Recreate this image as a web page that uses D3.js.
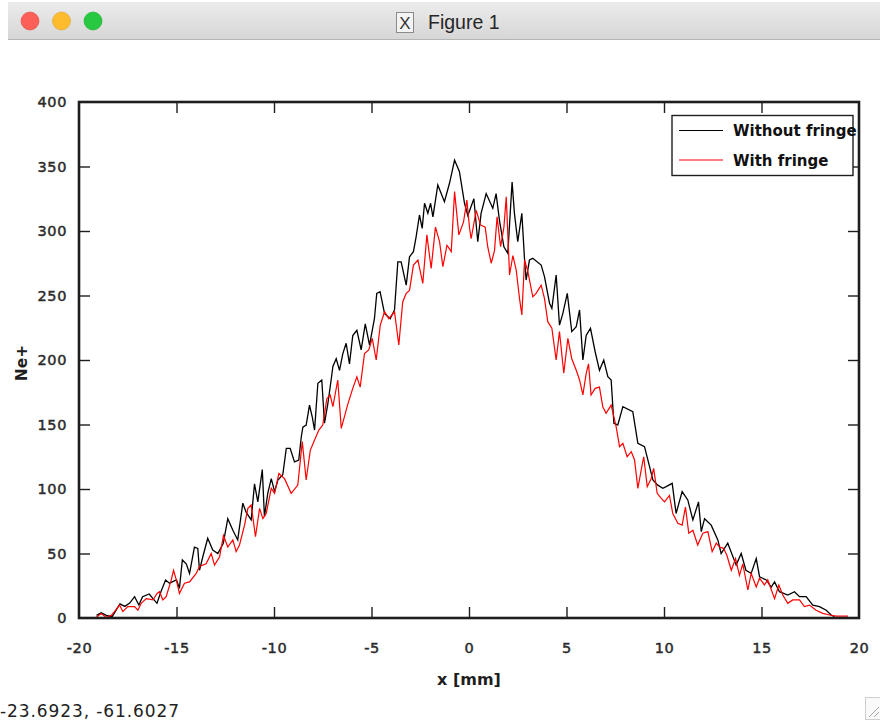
<!DOCTYPE html>
<html>
<head>
<meta charset="utf-8">
<script src="https://cdn.jsdelivr.net/npm/d3@7"></script>
<style>
  html, body { margin: 0; padding: 0; background: #fff; }
  svg { display: block; }
</style>
</head>
<body>
<svg id="fig" width="880" height="724"></svg>
<script>
// Ne+ profile across x, without fringe field
const xWithout = [-19.1,-18.86,-18.6,-18.3,-17.9,-17.65,-17.4,-17.15,-16.93,-16.74,-16.4,-16.0,-15.8,-15.56,-15.36,-15.0,-14.85,-14.7,-14.5,-14.33,-14.08,-13.91,-13.82,-13.65,-13.4,-13.14,-12.88,-12.6,-12.37,-12.11,-11.86,-11.6,-11.43,-11.17,-11.0,-10.83,-10.6,-10.49,-10.32,-10.14,-9.97,-9.8,-9.55,-9.37,-9.17,-8.95,-8.73,-8.6,-8.52,-8.35,-8.18,-8.04,-7.92,-7.75,-7.55,-7.41,-7.24,-7.07,-6.98,-6.81,-6.64,-6.47,-6.3,-6.13,-5.96,-5.75,-5.53,-5.32,-5.1,-4.85,-4.73,-4.56,-4.33,-4.04,-3.82,-3.65,-3.48,-3.22,-3.05,-2.85,-2.71,-2.54,-2.4,-2.28,-2.11,-1.97,-1.85,-1.6,-1.26,-1.0,-0.74,-0.49,-0.23,-0.06,0.25,0.45,0.62,0.88,1.22,1.39,1.56,1.79,1.99,2.21,2.33,2.5,2.71,2.85,2.93,3.1,3.27,3.7,3.87,4.13,4.25,4.47,4.64,4.81,5.04,5.27,5.5,5.67,5.84,6.01,6.23,6.47,6.69,6.91,7.12,7.29,7.43,7.63,7.89,8.4,8.66,9.0,9.26,9.43,9.68,9.94,10.11,10.42,10.62,10.93,11.22,11.48,11.77,11.91,12.08,12.42,12.76,12.93,13.27,13.7,13.96,14.2,14.47,14.73,14.9,15.24,15.5,15.67,15.92,16.35,16.69,16.95,17.29,17.63,17.97,18.32,18.57,18.74];
const neWithout = [2,4,2,1,11,9,11.6,16.5,10,16.5,18.6,11.4,20.4,29.5,27,29.5,23,45,42,34.6,55,54,37,47.5,61.8,52.7,50,58,77,68,60.5,89,82,76,104,90,115,78.5,96.7,108,98,107,111,131.5,131.5,121,122.5,140.5,148,149.6,165,156,145.7,182,184.5,151,166,184.5,195,201,192,205,213,197,219,223,207.8,228,211.6,232,251.7,253,236,232,238.8,276,276,258,280,284,295.6,312.4,302,321.5,313.7,321.5,311,335.7,322.7,337,355,346,321.5,312,325,291.7,313.7,329,317.6,329,308.5,287.8,282.7,338,313.7,291.7,313.7,277.5,262,277.5,278.8,273.6,264.6,244,240,265.9,227,236,251.7,222,225.8,238.8,200,219,224.6,206.4,192,200,187,184.5,151,149.6,163.8,160,135.4,132.8,117.3,107,103,100.5,101.8,104.4,81,98,91.5,76,90,67,77,72,60.5,50,58,41,50,37,34.6,46,32,29.5,24,28,20.4,17.8,20.4,16.5,16.5,10,8.8,6,2.3,1];

// Ne+ profile across x, with fringe field
const xWith = [-19.12,-18.86,-18.6,-18.35,-18.18,-17.92,-17.75,-17.5,-17.15,-16.98,-16.81,-16.55,-16.2,-16.0,-15.87,-15.7,-15.53,-15.27,-15.15,-15.01,-14.85,-14.59,-14.33,-13.99,-13.82,-13.48,-13.22,-13.05,-12.79,-12.59,-12.37,-12.11,-11.94,-11.77,-11.51,-11.34,-11.17,-10.95,-10.74,-10.57,-10.4,-10.14,-9.97,-9.75,-9.46,-9.12,-8.78,-8.55,-8.35,-8.14,-7.92,-7.7,-7.5,-7.29,-7.12,-6.98,-6.73,-6.55,-6.21,-5.96,-5.75,-5.58,-5.36,-5.14,-4.96,-4.76,-4.55,-4.33,-4.11,-3.82,-3.6,-3.4,-3.22,-3.05,-2.85,-2.62,-2.37,-2.16,-1.94,-1.72,-1.51,-1.34,-1.13,-0.91,-0.74,-0.52,-0.28,-0.11,0.03,0.11,0.37,0.59,0.83,0.96,1.14,1.31,1.44,1.62,1.79,1.91,2.08,2.25,2.42,2.59,2.71,2.85,3.02,3.27,3.44,3.7,3.87,4.04,4.25,4.47,4.64,4.86,5.07,5.27,5.5,5.67,5.84,6.01,6.13,6.26,6.47,6.69,6.86,7.03,7.29,7.55,7.72,7.89,8.11,8.32,8.49,8.66,8.83,8.96,9.14,9.34,9.47,9.65,9.86,10.03,10.28,10.45,10.71,10.93,11.1,11.27,11.48,11.73,11.99,12.25,12.47,12.68,12.85,13.05,13.22,13.45,13.67,13.87,14.04,14.3,14.47,14.73,14.9,15.15,15.32,15.67,15.89,16.09,16.35,16.6,16.95,17.2,17.46,17.8,18.14,18.49,18.83,19.43];
const neWith = [0.5,3.5,0.5,2,5,10,5,8.8,8.8,6,11.4,15,14,19,20.4,14,16.5,29.5,37,29.5,19,27,28,34.6,40,42,50,41,47.5,64,55,60.5,51.4,56.6,72,85,87.6,63,85,77,81,100.5,96.7,112,108,96.7,103,136.7,107,130,138,145.7,149.6,170,172.9,163.8,184.5,147,166,178,187,179,205,207.8,216.8,200,227,237.4,232,237.4,211.6,245,251.7,254,273.6,277.5,259.4,297,271,303,291.7,272.3,289,284,330.5,297,307,324,302,294,316,304.7,303,287.8,275,285,311,287.8,303,326.6,265.9,281,269.8,247.8,234.9,277.5,268.5,249,251.7,258,247.8,229.7,224.6,200,222,189.7,216.8,201,192,184.5,172.9,189.7,197,172.9,178,179,163.8,158.7,165,148,132.8,135.4,125,129,122.5,100.5,114.7,125,101.8,108,116,96.7,92.8,90,95,81,73.4,72,86,65.7,68,56.6,65.7,67,51.4,58,55,54,48.8,37,46,33,42,21.7,34.6,24,30.8,25.6,29.5,15,25.6,17.8,11.4,14,14,8.8,10,6,3.6,2.3,1.5,1.5];

const xTicks = [-20,-15,-10,-5,0,5,10,15,20];
const yTicks = [0,50,100,150,200,250,300,350,400];
const seriesNames = ["Without fringe", "With fringe"];
const seriesColors = ["#000000", "#ff0000"];
const windowTitle = "Figure 1";
const pointerReadout = "-23.6923, -61.6027";

const svg = d3.select("#fig");
const ink = "#1e1e1e";

// ---- window chrome ----
const grad = svg.append("defs").append("linearGradient")
  .attr("id", "bar").attr("x1", 0).attr("y1", 0).attr("x2", 0).attr("y2", 1);
grad.append("stop").attr("offset", "0%").attr("stop-color", "#ececec");
grad.append("stop").attr("offset", "100%").attr("stop-color", "#d6d6d6");
svg.append("rect").attr("x", 8).attr("y", 2).attr("width", 872).attr("height", 37)
  .attr("fill", "url(#bar)");
svg.append("line").attr("x1", 8).attr("x2", 880).attr("y1", 39.5).attr("y2", 39.5)
  .attr("stroke", "#b4b4b4").attr("stroke-width", 1);

const lights = [["#fc5f57", "#e0443e"], ["#fdbc2e", "#dea123"], ["#28c840", "#1aab29"]];
lights.forEach((c, i) => {
  svg.append("circle").attr("cx", 30 + i * 31.5).attr("cy", 21).attr("r", 9)
    .attr("fill", c[0]).attr("stroke", c[1]).attr("stroke-width", 0.6);
});

// X11 icon and title
const icon = svg.append("g").attr("transform", "translate(396,12)");
icon.append("rect").attr("x", 0.5).attr("y", 0.5).attr("width", 17).attr("height", 20)
  .attr("fill", "#f4f4f4").attr("stroke", "#8a8a8a");
icon.append("text").attr("x", 9).attr("y", 16.5).attr("text-anchor", "middle")
  .attr("font-family", "Liberation Sans, Arial, sans-serif").attr("font-size", 17)
  .attr("fill", "#333").text("X");
svg.append("text").attr("x", 428).attr("y", 28.5)
  .attr("font-family", "Liberation Sans, Arial, sans-serif").attr("font-size", 19.5)
  .attr("fill", "#262626").text(windowTitle);

// ---- plot ----
const plotLeft = 79, plotRight = 859, plotTop = 102, plotBottom = 618;
const x = d3.scaleLinear().domain([-20, 20]).range([plotLeft, plotRight]);
const y = d3.scaleLinear().domain([0, 400]).range([plotBottom, plotTop]);

const tickFont = "DejaVu Sans, sans-serif";
const tickLen = 11;
const plainNumber = d => String(d);   // ASCII hyphen for negatives

const line = d3.line().x(d => x(d[0])).y(d => y(d[1]));
svg.append("clipPath").attr("id", "clip").append("rect")
  .attr("x", plotLeft).attr("y", plotTop)
  .attr("width", plotRight - plotLeft).attr("height", plotBottom - plotTop);

const dataSets = [
  d3.zip(xWithout, neWithout),
  d3.zip(xWith, neWith)
];
dataSets.forEach((pts, i) => {
  svg.append("path").datum(pts)
    .attr("d", line)
    .attr("fill", "none")
    .attr("stroke", seriesColors[i])
    .attr("stroke-width", i === 0 ? 1.3 : 1.2)
    .attr("stroke-linejoin", "miter")
    .attr("clip-path", "url(#clip)");
});

// axes: ticks point inward on all four sides
function styleAxis(g) {
  g.select(".domain").remove();
  g.selectAll(".tick line").attr("stroke", ink).attr("stroke-width", 1.4);
  g.selectAll(".tick text").attr("fill", "#2a2a2a")
    .attr("font-family", tickFont).attr("font-size", 14.5)
    .attr("letter-spacing", 0.6)
    .attr("stroke", "#2a2a2a").attr("stroke-width", 0.45);
}
const xb = svg.append("g").attr("transform", `translate(0,${plotBottom})`)
  .call(d3.axisBottom(x).tickValues(xTicks).tickFormat(plainNumber)
    .tickSizeInner(-tickLen).tickSizeOuter(0).tickPadding(tickLen + 14))
  .call(styleAxis);
const xt = svg.append("g").attr("transform", `translate(0,${plotTop})`)
  .call(d3.axisTop(x).tickValues(xTicks).tickSizeInner(-tickLen).tickSizeOuter(0).tickFormat(""))
  .call(styleAxis);
const yl = svg.append("g").attr("transform", `translate(${plotLeft},0)`)
  .call(d3.axisLeft(y).tickValues(yTicks).tickFormat(plainNumber)
    .tickSizeInner(-tickLen).tickSizeOuter(0).tickPadding(tickLen + 1))
  .call(styleAxis);
const yr = svg.append("g").attr("transform", `translate(${plotRight},0)`)
  .call(d3.axisRight(y).tickValues(yTicks).tickSizeInner(-tickLen).tickSizeOuter(0).tickFormat(""))
  .call(styleAxis);
// end ticks sit on the frame
[xb, xt].forEach(g => g.selectAll(".tick line").filter(d => d === -20 || d === 20).remove());
[yl, yr].forEach(g => g.selectAll(".tick line").filter(d => d === 0 || d === 400).remove());

svg.append("rect").attr("x", plotLeft).attr("y", plotTop)
  .attr("width", plotRight - plotLeft).attr("height", plotBottom - plotTop)
  .attr("fill", "none").attr("stroke", ink).attr("stroke-width", 2.6);

// axis titles
svg.append("text").attr("x", (plotLeft + plotRight) / 2).attr("y", 685)
  .attr("text-anchor", "middle").attr("font-family", tickFont)
  .attr("font-weight", "bold").attr("font-size", 16).attr("fill", ink)
  .text("x [mm]");
svg.append("text").attr("transform", "translate(27,363) rotate(-90)")
  .attr("text-anchor", "middle").attr("font-family", tickFont)
  .attr("font-weight", "bold").attr("font-size", 15.5).attr("fill", ink)
  .text("Ne+");

// legend
const lg = svg.append("g");
lg.append("rect").attr("x", 672).attr("y", 115.5).attr("width", 181).attr("height", 60)
  .attr("fill", "#fff").attr("stroke", ink).attr("stroke-width", 1.4);
seriesNames.forEach((name, i) => {
  const cy = 130.5 + i * 29.5;
  lg.append("line").attr("x1", 679).attr("x2", 723).attr("y1", cy).attr("y2", cy)
    .attr("stroke", seriesColors[i]).attr("stroke-width", 1.2);
  lg.append("text").attr("x", 733).attr("y", cy + 5.5)
    .attr("font-family", tickFont).attr("font-weight", "bold").attr("font-size", 15)
    .attr("fill", "#111").text(name);
});

// pointer position readout
svg.append("text").attr("x", 0).attr("y", 717)
  .attr("font-family", "DejaVu Sans, sans-serif").attr("font-size", 17)
  .attr("letter-spacing", 0.9)
  .attr("fill", "#222").text(pointerReadout);

// resize grip
const grip = svg.append("g").attr("transform", "translate(865,697)");
grip.append("rect").attr("x", 0.5).attr("y", 0.5).attr("width", 16).attr("height", 22)
  .attr("fill", "#fafafa").attr("stroke", "#cfcfcf");
grip.append("line").attr("x1", 4).attr("y1", 20).attr("x2", 14).attr("y2", 10)
  .attr("stroke", "#8f8f8f").attr("stroke-width", 0.8);
grip.append("line").attr("x1", 9).attr("y1", 20).attr("x2", 14).attr("y2", 15)
  .attr("stroke", "#8f8f8f").attr("stroke-width", 0.8);
</script>
</body>
</html>
